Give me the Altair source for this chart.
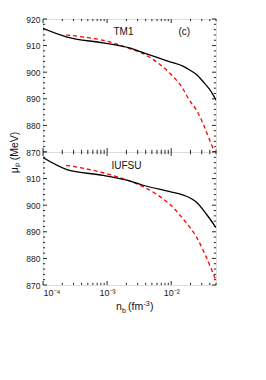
import altair as alt
import pandas as pd

# ---------------- data ----------------
# baryon density n_b (fm^-3)
tm1_black_x = [1e-4, 2.3e-4, 8.7e-4, 2.24e-3, 3.63e-3, 9.55e-3, 0.0155, 0.0195, 0.0251, 0.0316, 0.0398, 0.05]
tm1_black_y = [916.5, 913.3, 911.0, 909.1, 907.4, 903.9, 902.2, 900.8, 899.0, 896.4, 893.5, 889.5]

tm1_red_x = [2.3e-4, 5e-4, 8.7e-4, 2.24e-3, 3.63e-3, 5.9e-3, 9.55e-3, 0.0155, 0.0186, 0.0251, 0.0316, 0.0398, 0.05]
tm1_red_y = [914.0, 913.0, 912.0, 908.9, 907.0, 903.9, 899.6, 893.5, 890.0, 885.5, 880.5, 874.5, 868.5]

iufsu_black_x = [1e-4, 2.3e-4, 8.7e-4, 2.24e-3, 3.63e-3, 9.55e-3, 0.0155, 0.0251, 0.0355, 0.05]
iufsu_black_y = [917.9, 913.5, 911.2, 909.1, 907.5, 905.1, 903.8, 901.0, 896.6, 891.6]

iufsu_red_x = [2.3e-4, 8.7e-4, 2.24e-3, 3.63e-3, 5.9e-3, 9.55e-3, 0.0155, 0.0251, 0.0355, 0.05]
iufsu_red_y = [915.0, 912.2, 909.1, 907.0, 904.1, 900.3, 894.7, 887.8, 880.3, 871.7]

# annotations
tm1_labels = ["TM1", "(c)"]
tm1_label_x = [1.8e-3, 0.016]
tm1_label_y = [915.0, 915.0]
iufsu_labels = ["IUFSU"]
iufsu_label_x = [2.0e-3]
iufsu_label_y = [914.7]

# axes
x_domain = [1e-4, 0.05]
y_domain = [870, 920]
x_major = [1e-4, 1e-3, 1e-2]
x_major_labels = ["10\u207b\u2074", "10\u207b\u00b3", "10\u207b\u00b2"]
x_minor = [2e-4, 3e-4, 4e-4, 5e-4, 6e-4, 7e-4, 8e-4, 9e-4,
           2e-3, 3e-3, 4e-3, 5e-3, 6e-3, 7e-3, 8e-3, 9e-3,
           2e-2, 3e-2, 4e-2, 5e-2]
y_major = [870, 880, 890, 900, 910, 920]
y_minor = [872, 874, 876, 878, 882, 884, 886, 888, 892, 894, 896, 898,
           902, 904, 906, 908, 912, 914, 916, 918]
top_y_labels = [870, 880, 890, 900, 910, 920]
bottom_y_labels = [870, 880, 890, 900, 910]

W, H = 173, 133
FONT = "Liberation Sans"
MAJ, MIN = 4, 2.2

label_expr = " : ".join(
    [f"datum.value < {v * 1.5} ? '{t}'" for v, t in zip(x_major, x_major_labels)]
) + " : ''"


def panel(bx, by, rx, ry, lab, lx, ly, ylabels, show_x, ytitle):
    if show_x:
        xaxis = alt.Axis(values=x_major, labelExpr=label_expr, ticks=False, domain=False,
                         grid=False, labelFontSize=9, labelPadding=3, title=None,
                         labelColor="#222", labelFont=FONT)
    else:
        xaxis = None
    yaxis_kwargs = dict(values=ylabels, ticks=False, domain=False, grid=False,
                        labelFontSize=8.5, labelPadding=3, labelColor="#222", labelFont=FONT,
                        format="d")
    if ytitle:
        yaxis = alt.Axis(title="\u03bc\u209a (MeV)", titleFontSize=10.5, titleFont=FONT,
                         titleFontWeight="normal", titleColor="#111",
                         titleY=H, titleX=-24, titleAngle=270, titleAlign="center",
                         titleBaseline="bottom", **yaxis_kwargs)
    else:
        yaxis = alt.Axis(title=None, **yaxis_kwargs)

    xs = alt.Scale(type="log", domain=x_domain, nice=False)
    ys = alt.Scale(domain=y_domain, nice=False, zero=False)
    xe = alt.X("x:Q", scale=xs, axis=xaxis)
    ye = alt.Y("y:Q", scale=ys, axis=yaxis)

    black = alt.Chart(pd.DataFrame({"x": bx, "y": by})).mark_line(
        color="black", strokeWidth=1.3, interpolate="monotone", clip=True
    ).encode(x=xe, y=ye)
    red = alt.Chart(pd.DataFrame({"x": rx, "y": ry})).mark_line(
        color="#ff0000", strokeWidth=1.3, strokeDash=[4, 3], interpolate="monotone", clip=True
    ).encode(x=xe, y=ye)
    text = alt.Chart(pd.DataFrame({"x": lx, "y": ly, "t": lab})).mark_text(
        font=FONT, fontSize=10, color="#111"
    ).encode(x=xe, y=ye, text="t:N")

    ymaj = pd.DataFrame({"y": y_major})
    ymin = pd.DataFrame({"y": y_minor})
    xmaj = pd.DataFrame({"x": x_major})
    xmin = pd.DataFrame({"x": x_minor})
    tk = dict(color="#111", strokeWidth=0.9)
    ticks = [
        alt.Chart(ymaj).mark_rule(**tk).encode(y=ye, x=alt.value(0), x2=alt.value(MAJ)),
        alt.Chart(ymaj).mark_rule(**tk).encode(y=ye, x=alt.value(W), x2=alt.value(W - MAJ)),
        alt.Chart(ymin).mark_rule(**tk).encode(y=ye, x=alt.value(0), x2=alt.value(MIN)),
        alt.Chart(ymin).mark_rule(**tk).encode(y=ye, x=alt.value(W), x2=alt.value(W - MIN)),
        alt.Chart(xmaj).mark_rule(**tk).encode(x=xe, y=alt.value(H), y2=alt.value(H - MAJ)),
        alt.Chart(xmaj).mark_rule(**tk).encode(x=xe, y=alt.value(0), y2=alt.value(MAJ)),
        alt.Chart(xmin).mark_rule(**tk).encode(x=xe, y=alt.value(H), y2=alt.value(H - MIN)),
        alt.Chart(xmin).mark_rule(**tk).encode(x=xe, y=alt.value(0), y2=alt.value(MIN)),
    ]
    layers = [red, black, text] + ticks
    if show_x:
        tf = dict(font=FONT, color="#111", align="left", baseline="alphabetic")
        one = pd.DataFrame({"k": [0]})
        base_y = H + 25
        layers += [
            alt.Chart(one).mark_text(text="n", fontSize=10.5, **tf).encode(x=alt.value(73), y=alt.value(base_y)),
            alt.Chart(one).mark_text(text="b", fontSize=7, **tf).encode(x=alt.value(79), y=alt.value(base_y + 2.5)),
            alt.Chart(one).mark_text(text="(fm", fontSize=10.5, **tf).encode(x=alt.value(85), y=alt.value(base_y)),
            alt.Chart(one).mark_text(text="-3", fontSize=7, **tf).encode(x=alt.value(100.5), y=alt.value(base_y - 4)),
            alt.Chart(one).mark_text(text=")", fontSize=10.5, **tf).encode(x=alt.value(107), y=alt.value(base_y)),
        ]
    return alt.layer(*layers).properties(width=W, height=H)


top = panel(tm1_black_x, tm1_black_y, tm1_red_x, tm1_red_y,
            tm1_labels, tm1_label_x, tm1_label_y, top_y_labels, False, True)
bottom = panel(iufsu_black_x, iufsu_black_y, iufsu_red_x, iufsu_red_y,
               iufsu_labels, iufsu_label_x, iufsu_label_y, bottom_y_labels, True, False)

chart = alt.vconcat(top, bottom, spacing=0, bounds="flush").properties(
    padding={"left": 0, "top": 6, "right": 5, "bottom": 5}
).configure_view(stroke="#111", strokeWidth=1).configure(background="white")

chart.save("out.html", embed_options={"renderer": "svg", "actions": False})
